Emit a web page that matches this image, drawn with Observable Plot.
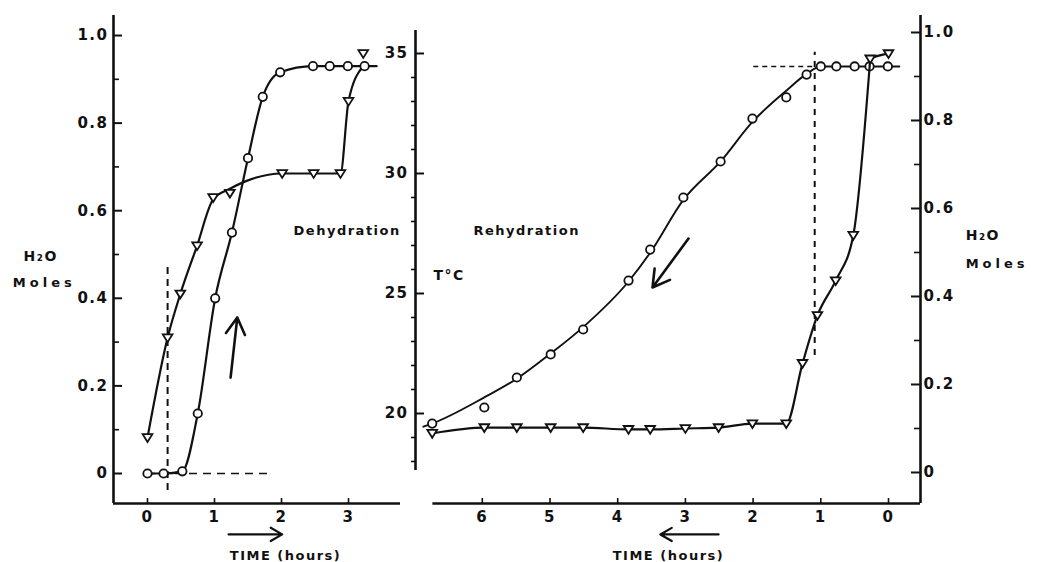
<!DOCTYPE html>
<html><head><meta charset="utf-8">
<script src="https://cdn.jsdelivr.net/npm/d3@7"></script>
<script src="https://cdn.jsdelivr.net/npm/@observablehq/plot@0.6"></script>
<style>
html,body{margin:0;padding:0;background:#fff;}
#fig{position:relative;width:1040px;height:562px;background:#fff;overflow:hidden;}
#fig svg{position:absolute;left:0;top:0;}
</style></head><body><div id="fig"></div>
<script>
// ---------- Left panel: Dehydration (time in hours → H2O moles) ----------
const dehydCircleHours = [0, 0.24, 0.52, 0.75, 1.01, 1.26, 1.50, 1.72, 1.98, 2.47, 2.72, 2.99, 3.24];
const dehydCircleMoles = [0, 0, 0.005, 0.137, 0.40, 0.55, 0.72, 0.86, 0.916, 0.93, 0.93, 0.93, 0.93];
const dehydCircleLineHours = [0, 0.24, 0.52, 0.75, 1.01, 1.26, 1.50, 1.72, 1.98, 2.47, 2.72, 2.99, 3.24, 3.42];
const dehydCircleLineMoles = [0, 0, 0.005, 0.137, 0.40, 0.55, 0.72, 0.86, 0.916, 0.93, 0.93, 0.93, 0.93, 0.93];

const dehydTriHours = [0, 0.30, 0.49, 0.74, 0.98, 1.23, 2.01, 2.48, 2.88, 3.00, 3.22];
const dehydTriMoles = [0.082, 0.31, 0.41, 0.52, 0.63, 0.64, 0.685, 0.685, 0.685, 0.85, 0.959];
const dehydTriLineHours = [0, 0.30, 0.49, 0.74, 0.98, 1.23, 1.46, 2.01, 2.48, 2.88, 3.00, 3.22];
const dehydTriLineMoles = [0.082, 0.31, 0.41, 0.52, 0.626, 0.65, 0.667, 0.685, 0.685, 0.685, 0.85, 0.93];

const leftHourTicks = [0, 1, 2, 3];
const molesTicks = [0, 0.2, 0.4, 0.6, 0.8, 1.0];
const molesMinorTicks = [0.1, 0.3, 0.5, 0.7, 0.9];

// ---------- Right panel: Rehydration (time in hours, reversed) ----------
const rehydTempHours = [6.74, 5.97, 5.49, 4.99, 4.51, 3.84, 3.52, 3.03, 2.48, 2.01, 1.51, 1.21, 1.00, 0.77, 0.50, 0.28, 0.01];
const rehydTempC     = [19.58, 20.25, 21.5, 22.46, 23.5, 25.54, 26.83, 29.0, 30.5, 32.29, 33.17, 34.12, 34.46, 34.46, 34.46, 34.46, 34.46];
const rehydTempLineHours = [6.87, 6.74, 5.97, 5.49, 4.99, 4.51, 3.84, 3.52, 3.03, 2.48, 2.01, 1.51, 1.21, 1.00, 0.50, 0.01, -0.16];
const rehydTempLineC     = [19.45, 19.58, 20.67, 21.45, 22.5, 23.6, 25.5, 26.7, 28.9, 30.5, 32.15, 33.45, 34.15, 34.46, 34.46, 34.46, 34.46];

const rehydTriHours = [6.74, 5.97, 5.49, 4.99, 4.51, 3.84, 3.52, 3.00, 2.51, 2.01, 1.51, 1.27, 1.05, 0.78, 0.52, 0.27, 0.0];
const rehydTriMoles = [0.089, 0.102, 0.102, 0.102, 0.102, 0.098, 0.098, 0.100, 0.102, 0.111, 0.111, 0.248, 0.357, 0.436, 0.539, 0.94, 0.952];
const rehydTriLineHours = [6.74, 5.97, 5.49, 4.99, 4.51, 3.84, 3.52, 3.00, 2.51, 2.01, 1.51, 1.27, 1.05, 0.78, 0.52, 0.28, 0.27, 0.0];
const rehydTriLineMoles = [0.089, 0.102, 0.102, 0.102, 0.102, 0.098, 0.098, 0.100, 0.102, 0.111, 0.111, 0.248, 0.357, 0.436, 0.539, 0.92, 0.94, 0.952];

const rightHourTicks = [0, 1, 2, 3, 4, 5, 6];
const tempTicks = [20, 25, 30, 35];
const tempMinorTicks = [18, 19, 21, 22, 23, 24, 26, 27, 28, 29, 31, 32, 33, 34];

// reference (dashed) lines
const dehydOnsetHour = 0.30;
const rehydOnsetHour = 1.09;
const rehydPlateauC = 34.46;

// ---------- helpers ----------
const zip = (xs, ys) => xs.map((x, i) => ({x, y: ys[i]}));
const FONT = "'DejaVu Sans', Verdana, sans-serif";
const INK = "#111";
const downTriangle = {
  draw(ctx, size) {
    const r = Math.sqrt(size / Math.PI);
    ctx.moveTo(-r * 1.15, -r * 0.8);
    ctx.lineTo(r * 1.15, -r * 0.8);
    ctx.lineTo(0, r * 1.05);
    ctx.closePath();
  }
};
const common = {
  width: 1040, height: 562, marginTop: 15, marginBottom: 59,
  style: `background:transparent;overflow:visible;font-family:${FONT};font-size:15px;font-weight:bold;letter-spacing:1.5px;color:${INK};`
};
const tickFmt = d => d === 0 ? "0" : d.toFixed(1);
const intFmt = d => String(d);

// ---------- Left plot ----------
const LX = [-0.5075, 3.776], LY = [-0.0685, 1.0457];
const leftPlot = Plot.plot({
  ...common, marginLeft: 113, marginRight: 640,
  x: {domain: LX, axis: null},
  y: {domain: LY, axis: null},
  marks: [
    Plot.ruleX([LX[0]], {y1: LY[0], y2: LY[1], stroke: INK, strokeWidth: 2.6}),
    Plot.ruleY([LY[0]], {x1: LX[0], x2: LX[1], stroke: INK, strokeWidth: 2.6}),
    Plot.axisY({ticks: molesTicks, anchor: "left", tickSize: -9, fill: "none", strokeWidth: 2, label: null}),
    Plot.axisY({ticks: molesMinorTicks, anchor: "left", tickSize: -6, fill: "none", strokeWidth: 1.6, label: null}),
    Plot.axisY({ticks: molesTicks, anchor: "left", tickSize: 0, tickPadding: 5, tickFormat: tickFmt, label: null}),
    Plot.axisX({ticks: leftHourTicks, anchor: "bottom", tickSize: -5, fill: "none", strokeWidth: 1.6, label: null}),
    Plot.axisX({ticks: leftHourTicks, anchor: "bottom", tickSize: 0, tickPadding: 8, tickFormat: intFmt, label: null}),
    // dashed reference lines
    Plot.ruleX([dehydOnsetHour], {y1: -0.039, y2: 0.475, stroke: INK, strokeWidth: 2, strokeDasharray: "7,5"}),
    Plot.ruleY([0], {x1: 0, x2: 1.88, stroke: INK, strokeWidth: 1.6, strokeDasharray: "8,6"}),
    // curves
    Plot.line(zip(dehydCircleLineHours, dehydCircleLineMoles), {x: "x", y: "y", curve: "monotone-x", stroke: INK, strokeWidth: 2.2}),
    Plot.line(zip(dehydTriLineHours, dehydTriLineMoles), {x: "x", y: "y", curve: "monotone-x", stroke: INK, strokeWidth: 2.2}),
    Plot.dot(zip(dehydCircleHours, dehydCircleMoles), {x: "x", y: "y", r: 4.2, fill: "white", stroke: INK, strokeWidth: 1.8}),
    Plot.dot(zip(dehydTriHours, dehydTriMoles), {x: "x", y: "y", r: 4.2, symbol: downTriangle, fill: "white", stroke: INK, strokeWidth: 1.8}),
    // arrows
    Plot.arrow([0], {x1: 1.24, y1: 0.219, x2: 1.34, y2: 0.356, stroke: INK, strokeWidth: 2.6, headLength: 11}),
    Plot.arrow([0], {x1: 1.21, y1: -0.139, x2: 2.01, y2: -0.139, stroke: INK, strokeWidth: 2.2, headLength: 9}),
    // labels
    Plot.text(["Dehydration"], {x: 2.18, y: 0.555, textAnchor: "start", fontSize: 13, fill: INK}),
    Plot.text(["H₂O"], {x: -1.85, y: 0.495, textAnchor: "start", fontSize: 14, fill: INK}),
    Plot.text(["Moles"], {x: -2.01, y: 0.436, textAnchor: "start", fontSize: 13, fill: INK}),
    Plot.text(["TIME (hours)"], {x: 2.06, y: -0.187, textAnchor: "middle", fontSize: 13, fill: INK})
  ]
});

// ---------- Right plot: temperature ----------
const RX = [6.9867, -0.4727], RT = [16.25, 36.583], RM = [-0.0705, 1.0386];
const tempPlot = Plot.plot({
  ...common, marginLeft: 415, marginRight: 120,
  x: {domain: RX, axis: null},
  y: {domain: RT, axis: null},
  marks: [
    Plot.ruleX([RX[0]], {y1: 17.625, y2: 35.96, stroke: INK, strokeWidth: 2.6}),
    Plot.ruleY([RT[0]], {x1: 6.73, x2: RX[1], stroke: INK, strokeWidth: 2.6}),
    Plot.axisY({ticks: tempTicks, anchor: "left", tickSize: -9, fill: "none", strokeWidth: 2, label: null}),
    Plot.axisY({ticks: tempMinorTicks, anchor: "left", tickSize: 4, fill: "none", strokeWidth: 1.6, label: null}),
    Plot.axisY({ticks: tempTicks, anchor: "left", tickSize: 0, tickPadding: 7, tickFormat: intFmt, label: null}),
    Plot.axisX({ticks: rightHourTicks, anchor: "bottom", tickSize: -5, fill: "none", strokeWidth: 1.6, label: null}),
    Plot.axisX({ticks: rightHourTicks, anchor: "bottom", tickSize: 0, tickPadding: 8, tickFormat: intFmt, label: null}),
    Plot.ruleY([rehydPlateauC], {x1: 1.99, x2: 1.12, stroke: INK, strokeWidth: 1.5, strokeDasharray: "5,4"}),
    Plot.line(zip(rehydTempLineHours, rehydTempLineC), {x: "x", y: "y", curve: "monotone-x", stroke: INK, strokeWidth: 1.9}),
    Plot.dot(zip(rehydTempHours, rehydTempC), {x: "x", y: "y", r: 4.2, fill: "white", stroke: INK, strokeWidth: 1.8}),
    Plot.arrow([0], {x1: 2.954, y1: 27.29, x2: 3.486, y2: 25.25, stroke: INK, strokeWidth: 2.6, headLength: 11}),
    Plot.arrow([0], {x1: 2.51, y1: 14.96, x2: 3.37, y2: 14.96, stroke: INK, strokeWidth: 2.2, headLength: 9}),
    Plot.text(["Rehydration"], {x: 6.13, y: 27.625, textAnchor: "start", fontSize: 13, fill: INK}),
    Plot.text(["T°C"], {x: 6.72, y: 25.75, textAnchor: "start", fontSize: 14, fill: INK}),
    Plot.text(["TIME (hours)"], {x: 3.25, y: 14.08, textAnchor: "middle", fontSize: 13, fill: INK}),
    Plot.text(["H₂O"], {x: -1.14, y: 27.42, textAnchor: "start", fontSize: 14, fill: INK}),
    Plot.text(["Moles"], {x: -1.14, y: 26.25, textAnchor: "start", fontSize: 13, fill: INK})
  ]
});

// ---------- Right plot: H2O moles (right axis) ----------
const molesPlot = Plot.plot({
  ...common, marginLeft: 415, marginRight: 120,
  x: {domain: RX, axis: null},
  y: {domain: RM, axis: null},
  marks: [
    Plot.ruleX([RX[1]], {y1: RM[0], y2: RM[1], stroke: INK, strokeWidth: 2.6}),
    Plot.axisY({ticks: molesTicks, anchor: "right", tickSize: -10, fill: "none", strokeWidth: 2, label: null}),
    Plot.axisY({ticks: molesMinorTicks, anchor: "right", tickSize: -7, fill: "none", strokeWidth: 1.6, label: null}),
    Plot.axisY({ticks: molesTicks, anchor: "right", tickSize: 0, tickPadding: 3, tickFormat: tickFmt, label: null}),
    Plot.ruleX([rehydOnsetHour], {y1: 0.266, y2: 0.955, stroke: INK, strokeWidth: 2, strokeDasharray: "6,6"}),
    Plot.line(zip(rehydTriLineHours, rehydTriLineMoles), {x: "x", y: "y", curve: "monotone-x", stroke: INK, strokeWidth: 2.2}),
    Plot.dot(zip(rehydTriHours, rehydTriMoles), {x: "x", y: "y", r: 4.2, symbol: downTriangle, fill: "white", stroke: INK, strokeWidth: 1.8})
  ]
});

const fig = document.getElementById("fig");
for (const p of [leftPlot, tempPlot, molesPlot]) fig.appendChild(p);
d3.selectAll("#fig text").filter(function() { return this.textContent === "Moles"; }).attr("letter-spacing", "4px");
</script></body></html>
